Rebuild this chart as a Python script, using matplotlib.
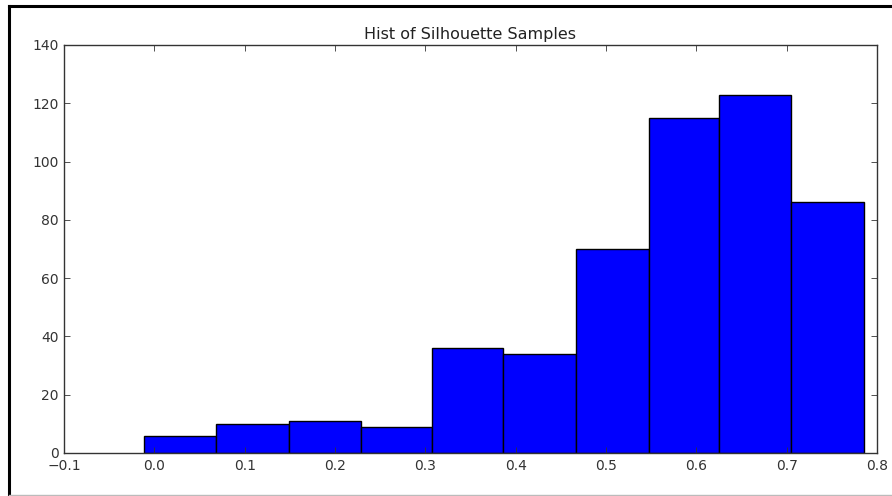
import matplotlib
matplotlib.use("Agg")
import matplotlib.pyplot as plt
from matplotlib.lines import Line2D
import numpy as np

# Data
bin_edges = [-0.0114, 0.0686, 0.1487, 0.2284, 0.3074, 0.3856, 0.4670, 0.5476, 0.6254, 0.7044, 0.7856]
counts = [6, 10, 11, 9, 36, 34, 70, 115, 123, 86]
x_ticks = [-0.1, 0.0, 0.1, 0.2, 0.3, 0.4, 0.5, 0.6, 0.7, 0.8]
y_ticks = [0, 20, 40, 60, 80, 100, 120, 140]
title = "Hist of Silhouette Samples"

W, H = 892, 496
fig = plt.figure(figsize=(W / 100, H / 100), dpi=100)
fig.patch.set_facecolor("white")

left, right, top, bottom = 64, 877, 45, 453
ax = fig.add_axes([left / W, 1 - bottom / H, (right - left) / W, (bottom - top) / H])

edges = np.array(bin_edges)
ax.bar(edges[:-1], counts, width=np.diff(edges), align="edge",
       color="#0000ff", edgecolor="black", linewidth=1.0)

ax.set_xlim(-0.1, 0.8)
ax.set_ylim(0, 140)
ax.set_xticks(x_ticks)
ax.set_xticklabels([f"{t:.1f}".replace("-", "\u2212") for t in x_ticks])
ax.set_yticks(y_ticks)
ax.set_yticklabels([str(t) for t in y_ticks])
ax.tick_params(direction="in", top=True, right=True, length=4, width=0.6,
               labelsize=10, colors="#333333", labelcolor="#333333", pad=4)
for s in ax.spines.values():
    s.set_linewidth(1.0)
    s.set_color("#333333")
ax.set_title(title, fontsize=11.5, color="#222222", pad=4)

# figure frame lines (screenshot border)
fig.add_artist(Line2D([8.5 / W, 8.5 / W], [1 - 6 / H, 1 - 495 / H], transform=fig.transFigure,
                      color="black", linewidth=2.2))
fig.add_artist(Line2D([8.5 / W, 1.0], [1 - 6 / H, 1 - 6 / H], transform=fig.transFigure,
                      color="black", linewidth=2.2))
fig.add_artist(Line2D([8.5 / W, 1.0], [1 - 495 / H, 1 - 495 / H], transform=fig.transFigure,
                      color="#bbbbbb", linewidth=1.0))

fig.savefig("out.png", dpi=100)
